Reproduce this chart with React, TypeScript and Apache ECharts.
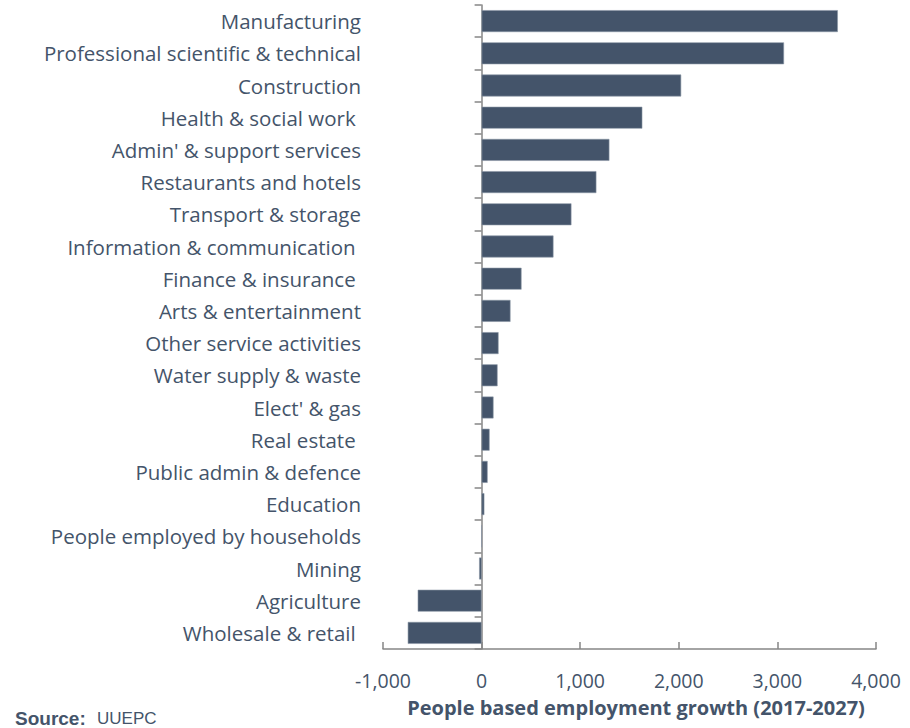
import React, { useEffect, useRef } from "react";
import * as echarts from "echarts";

const categories = [
  "Manufacturing",
  "Professional scientific & technical",
  "Construction",
  "Health & social work ",
  "Admin' & support services",
  "Restaurants and hotels",
  "Transport & storage",
  "Information & communication ",
  "Finance & insurance ",
  "Arts & entertainment",
  "Other service activities",
  "Water supply & waste",
  "Elect' & gas",
  "Real estate ",
  "Public admin & defence",
  "Education",
  "People employed by households",
  "Mining",
  "Agriculture",
  "Wholesale & retail ",
];

const growth = [
  3613, 3067, 2024, 1630, 1296, 1164, 911, 729, 405, 293,
  172, 162, 121, 81, 61, 28, 0, -25, -648, -749,
];

const axisTitle = "People based employment growth (2017-2027)";

export default function App() {
  const ref = useRef<HTMLDivElement>(null);
  useEffect(() => {
    if (!ref.current) return;
    const chart = echarts.init(ref.current, undefined, { renderer: "svg" });
    const axisColor = "#868686";
    const textColor = "#44546A";
    chart.setOption({
      animation: false,
      grid: { left: 383, right: 34, top: 5, bottom: 79, containLabel: false },
      xAxis: {
        type: "value",
        min: -1000,
        max: 4000,
        interval: 1000,
        axisLine: { show: true, lineStyle: { color: axisColor, width: 1.5 } },
        axisTick: { show: true, inside: true, length: 7, lineStyle: { color: axisColor, width: 1.5 } },
        splitLine: { show: false },
        axisLabel: {
          margin: 21,
          color: textColor,
          fontFamily: "Open Sans",
          fontSize: 19.5,
          formatter: (v: number) => v.toLocaleString("en-US"),
        },
      },
      yAxis: {
        type: "category",
        inverse: true,
        data: categories,
        axisLine: { show: true, onZero: true, lineStyle: { color: axisColor, width: 1.5 } },
        axisTick: { show: true, length: 7, lineStyle: { color: axisColor, width: 1.5 } },
        axisLabel: {
          margin: 22,
          color: textColor,
          fontFamily: "Open Sans",
          fontSize: 20.5,
        },
      },
      series: [
        {
          type: "bar",
          data: growth,
          barCategoryGap: "32%",
          itemStyle: { color: "#44546A", borderColor: "#8A95A5", borderWidth: 0.6 },
        },
      ],
      graphic: [
        {
          type: "text",
          x: 636,
          y: 707,
          style: {
            text: axisTitle,
            align: "center",
            verticalAlign: "middle",
            fontFamily: "Open Sans",
            fontWeight: "bold",
            fontSize: 20,
            fill: "#44546A",
          },
        },
        {
          type: "text",
          x: 15,
          y: 718,
          style: {
            text: "Source:",
            verticalAlign: "middle",
            fontFamily: "Liberation Sans",
            fontWeight: "bold",
            fontSize: 19,
            fill: "#44546A",
          },
        },
        {
          type: "text",
          x: 97,
          y: 718,
          style: {
            text: "UUEPC",
            verticalAlign: "middle",
            fontFamily: "Liberation Sans",
            fontSize: 17,
            fill: "#44546A",
          },
        },
      ],
    });
    return () => chart.dispose();
  }, []);
  return <div ref={ref} style={{ width: 910, height: 728, position: "absolute", left: 0, top: 0 }} />;
}
